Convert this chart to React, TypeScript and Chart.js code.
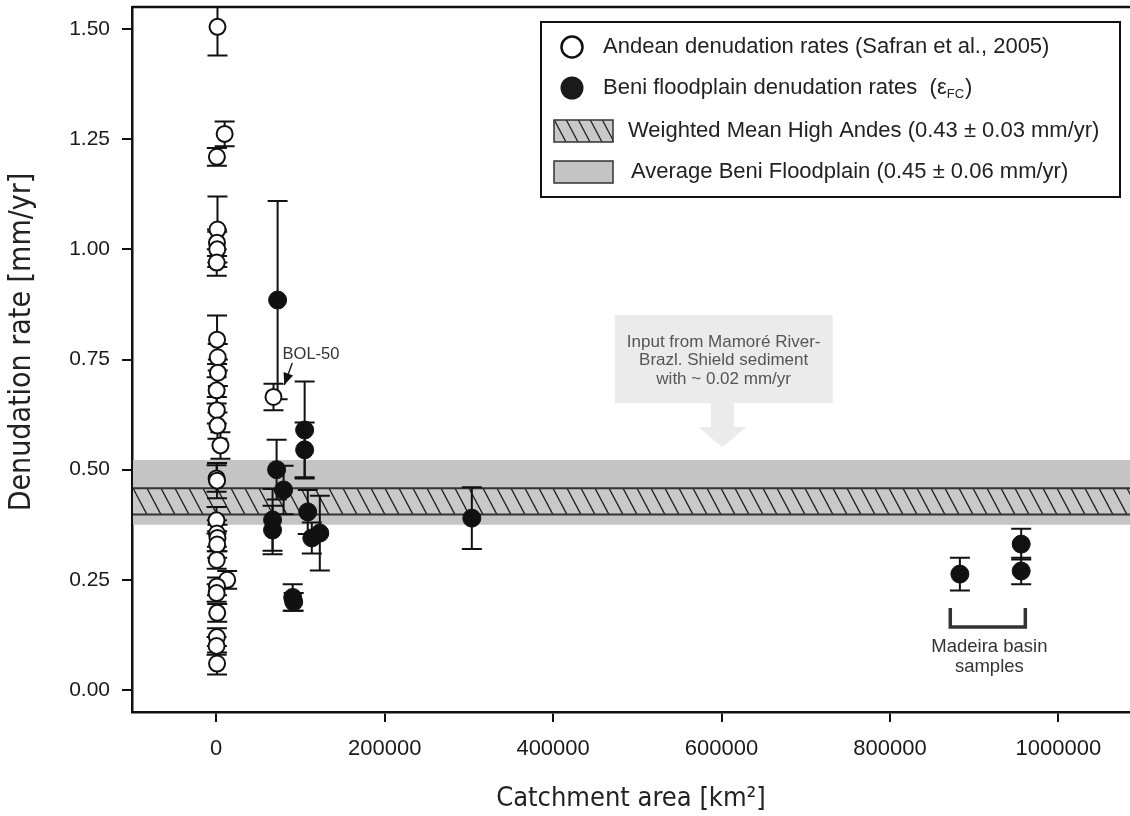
import React, { useEffect, useRef } from "react";
import { Chart, registerables } from "chart.js";

Chart.register(...registerables);

// ---------- data ----------
const X_TICKS = [0, 200000, 400000, 600000, 800000, 1000000];
const Y_TICKS = [0, 0.25, 0.5, 0.75, 1.0, 1.25, 1.5];

// Andean denudation rates (Safran et al., 2005) — catchment area km², rate mm/yr, error
const ANDEAN_X = [1500, 10000, 800, 1500, 900, 1200, 600, 1000, 1800, 2000, 500, 700, 1500, 5000, 400, 1000, 300, 800, 1500, 1100, 600, 13000, 900, 500, 1200, 800, 400, 1000, 68000];
const ANDEAN_Y = [1.505, 1.262, 1.21, 1.045, 1.015, 1.0, 0.97, 0.795, 0.755, 0.72, 0.68, 0.635, 0.6, 0.555, 0.48, 0.475, 0.385, 0.355, 0.345, 0.33, 0.295, 0.25, 0.235, 0.22, 0.175, 0.12, 0.1, 0.06, 0.665];
const ANDEAN_ERR = [0.065, 0.028, 0.02, 0.075, 0.03, 0.04, 0.03, 0.055, 0.03, 0.03, 0.03, 0.03, 0.03, 0.03, 0.03, 0.04, 0.03, 0.03, 0.03, 0.03, 0.02, 0.02, 0.02, 0.02, 0.02, 0.02, 0.02, 0.025, 0.03];

// Beni floodplain denudation rates
const BENI_X = [72900, 105000, 105000, 71700, 80000, 66900, 66900, 108700, 113500, 123000, 90800, 92000, 303500, 883000, 955800, 955800];
const BENI_Y = [0.885, 0.59, 0.545, 0.5, 0.454, 0.386, 0.363, 0.404, 0.345, 0.356, 0.21, 0.2, 0.39, 0.263, 0.331, 0.27];
const BENI_ERR = [0.225, 0.11, 0.062, 0.068, 0.055, 0.07, 0.055, 0.05, 0.035, 0.085, 0.03, 0.02, 0.07, 0.037, 0.035, 0.03];

// Bands
const AVG_BENI_BAND = [0.375, 0.522];
const WEIGHTED_ANDES_BAND = [0.398, 0.458];

// Annotations (data coordinates)
const NOTE_BOX = { x0: 473000, x1: 732000, y0: 0.651, y1: 0.851 };
const NOTE_LINES = ["Input from Mamoré River-", "Brazl. Shield sediment", "with ~ 0.02 mm/yr"];
const NOTE_LINE_Y = [0.79, 0.748, 0.705];
const NOTE_ARROW = { x: 601000, yTop: 0.651, yNeck: 0.597, yTip: 0.551 };
const BOL_LABEL = { text: "BOL-50", x: 78800, y: 0.762 };
const BOL_ARROW = { x0: 90300, y0: 0.742, x1: 80800, y1: 0.692 };
const MADEIRA_BRACKET = { x0: 871600, x1: 960700, yTop: 0.186, yBottom: 0.143 };
const MADEIRA_LINES = ["Madeira basin", "samples"];
const MADEIRA_LINE_Y = [0.098, 0.052];
const MADEIRA_TEXT_X = 918000;

const Y_TITLE = "Denudation rate [mm/yr]";
const X_TITLE = "Catchment area [km\u00b2]";

const SANS = "'Liberation Sans', Arial, sans-serif";
const NARROW = "'Liberation Sans Narrow', 'Arial Narrow', 'DejaVu Sans Condensed', sans-serif";

function hatchRect(ctx: CanvasRenderingContext2D, l: number, t: number, w: number, h: number, step: number) {
  ctx.save();
  ctx.beginPath();
  ctx.rect(l, t, w, h);
  ctx.clip();
  ctx.strokeStyle = "#222";
  ctx.lineWidth = 1.3;
  ctx.beginPath();
  const dx = 0.53 * h;
  for (let xs = l - dx - step; xs < l + w + step; xs += step) {
    ctx.moveTo(xs, t);
    ctx.lineTo(xs + dx, t + h);
  }
  ctx.stroke();
  ctx.restore();
}

const bandsPlugin = {
  id: "bands",
  beforeDatasetsDraw(chart: any) {
    const { ctx, chartArea, scales } = chart;
    const y = scales.y;
    const l = chartArea.left + 1;
    const r = chartArea.right;
    ctx.save();
    const gTop = y.getPixelForValue(AVG_BENI_BAND[1]);
    const gBot = y.getPixelForValue(AVG_BENI_BAND[0]);
    ctx.fillStyle = "#c4c4c4";
    ctx.fillRect(l, gTop, r - l, gBot - gTop);
    const hTop = y.getPixelForValue(WEIGHTED_ANDES_BAND[1]);
    const hBot = y.getPixelForValue(WEIGHTED_ANDES_BAND[0]);
    ctx.fillStyle = "#c9c9c9";
    ctx.fillRect(l, hTop, r - l, hBot - hTop);
    hatchRect(ctx, l, hTop, r - l, hBot - hTop, 14);
    ctx.strokeStyle = "#333";
    ctx.lineWidth = 2;
    ctx.beginPath();
    ctx.moveTo(l, hTop);
    ctx.lineTo(r, hTop);
    ctx.moveTo(l, hBot);
    ctx.lineTo(r, hBot);
    ctx.stroke();
    ctx.restore();
  },
};

const errorBarsPlugin = {
  id: "errorBars",
  beforeDatasetsDraw(chart: any) {
    const { ctx, chartArea, scales } = chart;
    const { x, y } = scales;
    ctx.save();
    ctx.beginPath();
    ctx.rect(chartArea.left, chartArea.top, chartArea.width, chartArea.height);
    ctx.clip();
    ctx.strokeStyle = "#111";
    ctx.lineWidth = 2;
    chart.data.datasets.forEach((ds: any) => {
      ds.data.forEach((p: any) => {
        const px = x.getPixelForValue(p.x);
        const pTop = y.getPixelForValue(p.y + p.e);
        const pBot = y.getPixelForValue(p.y - p.e);
        ctx.beginPath();
        ctx.moveTo(px, pTop);
        ctx.lineTo(px, pBot);
        ctx.moveTo(px - 10, pTop);
        ctx.lineTo(px + 10, pTop);
        ctx.moveTo(px - 10, pBot);
        ctx.lineTo(px + 10, pBot);
        ctx.stroke();
      });
    });
    ctx.restore();
  },
};

const overlayPlugin = {
  id: "overlay",
  afterDraw(chart: any) {
    const { ctx, chartArea, scales } = chart;
    const { x, y } = scales;
    ctx.save();
    // top border
    ctx.strokeStyle = "#111";
    ctx.lineWidth = 2.5;
    ctx.beginPath();
    ctx.moveTo(chartArea.left, chartArea.top);
    ctx.lineTo(chartArea.right, chartArea.top);
    ctx.stroke();

    // y axis title
    ctx.save();
    ctx.translate(22, 342);
    ctx.rotate(-Math.PI / 2);
    ctx.font = `30px ${NARROW}`;
    ctx.fillStyle = "#222";
    ctx.textAlign = "center";
    ctx.textBaseline = "middle";
    ctx.fillText(Y_TITLE, 0, 0);
    ctx.restore();

    // note box
    const bx0 = x.getPixelForValue(NOTE_BOX.x0);
    const bx1 = x.getPixelForValue(NOTE_BOX.x1);
    const by0 = y.getPixelForValue(NOTE_BOX.y1);
    const by1 = y.getPixelForValue(NOTE_BOX.y0);
    ctx.fillStyle = "#ebebeb";
    ctx.fillRect(bx0, by0, bx1 - bx0, by1 - by0);
    const ax = x.getPixelForValue(NOTE_ARROW.x);
    const aTop = y.getPixelForValue(NOTE_ARROW.yTop);
    const aNeck = y.getPixelForValue(NOTE_ARROW.yNeck);
    const aTip = y.getPixelForValue(NOTE_ARROW.yTip);
    ctx.beginPath();
    ctx.moveTo(ax - 11.5, aTop);
    ctx.lineTo(ax + 11.5, aTop);
    ctx.lineTo(ax + 11.5, aNeck);
    ctx.lineTo(ax + 24, aNeck);
    ctx.lineTo(ax, aTip);
    ctx.lineTo(ax - 24, aNeck);
    ctx.lineTo(ax - 11.5, aNeck);
    ctx.closePath();
    ctx.fill();
    ctx.fillStyle = "#555";
    ctx.font = `17px ${SANS}`;
    ctx.textAlign = "center";
    ctx.textBaseline = "middle";
    const cx = (bx0 + bx1) / 2;
    NOTE_LINES.forEach((t, i) => ctx.fillText(t, cx, y.getPixelForValue(NOTE_LINE_Y[i])));

    // BOL-50 label + arrow
    ctx.fillStyle = "#333";
    ctx.font = `16.5px ${SANS}`;
    ctx.textAlign = "left";
    ctx.fillText(BOL_LABEL.text, x.getPixelForValue(BOL_LABEL.x), y.getPixelForValue(BOL_LABEL.y));
    const p0x = x.getPixelForValue(BOL_ARROW.x0), p0y = y.getPixelForValue(BOL_ARROW.y0);
    const p1x = x.getPixelForValue(BOL_ARROW.x1), p1y = y.getPixelForValue(BOL_ARROW.y1);
    ctx.strokeStyle = "#222";
    ctx.lineWidth = 1.5;
    ctx.beginPath();
    ctx.moveTo(p0x, p0y);
    ctx.lineTo(p1x, p1y);
    ctx.stroke();
    const ang = Math.atan2(p1y - p0y, p1x - p0x);
    ctx.fillStyle = "#111";
    ctx.beginPath();
    ctx.moveTo(p1x, p1y);
    ctx.lineTo(p1x - 13 * Math.cos(ang - 0.4), p1y - 13 * Math.sin(ang - 0.4));
    ctx.lineTo(p1x - 13 * Math.cos(ang + 0.4), p1y - 13 * Math.sin(ang + 0.4));
    ctx.closePath();
    ctx.fill();

    // Madeira bracket
    const mx0 = x.getPixelForValue(MADEIRA_BRACKET.x0);
    const mx1 = x.getPixelForValue(MADEIRA_BRACKET.x1);
    const myT = y.getPixelForValue(MADEIRA_BRACKET.yTop);
    const myB = y.getPixelForValue(MADEIRA_BRACKET.yBottom);
    ctx.strokeStyle = "#333";
    ctx.lineWidth = 3.5;
    ctx.beginPath();
    ctx.moveTo(mx0, myT);
    ctx.lineTo(mx0, myB);
    ctx.lineTo(mx1, myB);
    ctx.lineTo(mx1, myT);
    ctx.stroke();
    ctx.fillStyle = "#333";
    ctx.font = `18.5px ${SANS}`;
    ctx.textAlign = "center";
    MADEIRA_LINES.forEach((t, i) => ctx.fillText(t, x.getPixelForValue(MADEIRA_TEXT_X), y.getPixelForValue(MADEIRA_LINE_Y[i])));

    // legend
    const L = 541, T = 22, W = 579, H = 175;
    ctx.fillStyle = "#fff";
    ctx.fillRect(L, T, W, H);
    ctx.strokeStyle = "#111";
    ctx.lineWidth = 2;
    ctx.strokeRect(L, T, W, H);
    ctx.font = `22px ${SANS}`;
    ctx.textAlign = "left";
    ctx.textBaseline = "middle";
    // row 1
    ctx.beginPath();
    ctx.arc(572, 47, 10.5, 0, Math.PI * 2);
    ctx.fillStyle = "#fff";
    ctx.fill();
    ctx.lineWidth = 2.5;
    ctx.strokeStyle = "#111";
    ctx.stroke();
    ctx.fillStyle = "#222";
    ctx.fillText("Andean denudation rates (Safran et al., 2005)", 603, 47);
    // row 2
    ctx.beginPath();
    ctx.arc(572, 88, 11.5, 0, Math.PI * 2);
    ctx.fillStyle = "#1a1a1a";
    ctx.fill();
    ctx.fillStyle = "#222";
    const t2 = "Beni floodplain denudation rates  (\u03b5";
    ctx.fillText(t2, 603, 88);
    const w2 = ctx.measureText(t2).width;
    ctx.font = `13px ${SANS}`;
    ctx.fillText("FC", 603 + w2, 94);
    const wsub = ctx.measureText("FC").width;
    ctx.font = `22px ${SANS}`;
    ctx.fillText(")", 603 + w2 + wsub + 1, 88);
    // row 3
    ctx.fillStyle = "#c9c9c9";
    ctx.fillRect(554, 120, 59, 22);
    hatchRect(ctx, 554, 120, 59, 22, 12);
    ctx.strokeStyle = "#333";
    ctx.lineWidth = 1.5;
    ctx.strokeRect(554, 120, 59, 22);
    ctx.fillStyle = "#222";
    ctx.fillText("Weighted Mean High Andes (0.43 \u00b1 0.03 mm/yr)", 628, 131);
    // row 4
    ctx.fillStyle = "#c4c4c4";
    ctx.fillRect(554, 161, 59, 22);
    ctx.strokeStyle = "#333";
    ctx.strokeRect(554, 161, 59, 22);
    ctx.fillStyle = "#222";
    ctx.fillText("Average Beni Floodplain (0.45 \u00b1 0.06 mm/yr)", 631, 172);
    ctx.restore();
  },
};

export default function App() {
  const ref = useRef<HTMLCanvasElement>(null);
  useEffect(() => {
    const canvas = ref.current!;
    const andean = ANDEAN_X.map((v, i) => ({ x: v, y: ANDEAN_Y[i], e: ANDEAN_ERR[i] }));
    const beni = BENI_X.map((v, i) => ({ x: v, y: BENI_Y[i], e: BENI_ERR[i] }));
    const chart = new Chart(canvas, {
      type: "scatter",
      data: {
        datasets: [
          {
            label: "Andean denudation rates (Safran et al., 2005)",
            data: andean,
            pointRadius: 8,
            pointBorderWidth: 2,
            pointBackgroundColor: "#fff",
            pointBorderColor: "#111",
          },
          {
            label: "Beni floodplain denudation rates",
            data: beni,
            pointRadius: 9,
            pointBorderWidth: 1,
            pointBackgroundColor: "#111",
            pointBorderColor: "#111",
          },
        ],
      },
      options: {
        responsive: false,
        animation: false,
        devicePixelRatio: 1,
        layout: { autoPadding: false, padding: { top: 7, left: 0, right: 0, bottom: 0 } },
        plugins: { legend: { display: false }, tooltip: { enabled: false } },
        scales: {
          x: {
            type: "linear",
            min: -100000,
            max: 1085000,
            afterFit: (s: any) => {
              s.height = 104;
              s.paddingLeft = 0;
              s.paddingRight = 0;
            },
            afterBuildTicks: (s: any) => { s.ticks = X_TICKS.map((v) => ({ value: v })); },
            ticks: {
              callback: (v: any) => String(v),
              font: { family: SANS, size: 22 },
              color: "#1a1a1a",
              padding: 14,
              maxRotation: 0,
            },
            grid: { drawOnChartArea: false, drawTicks: true, tickLength: 10, color: "#111", lineWidth: 2 },
            border: { display: true, color: "#111", width: 2.5 },
            title: {
              display: true,
              text: X_TITLE,
              font: { family: NARROW, size: 27 },
              color: "#222",
              padding: { top: 0, bottom: 1 },
            },
          },
          y: {
            type: "linear",
            min: -0.05,
            max: 1.55,
            afterFit: (s: any) => {
              s.width = 132;
              s.paddingTop = 0;
              s.paddingBottom = 0;
            },
            afterBuildTicks: (s: any) => { s.ticks = Y_TICKS.map((v) => ({ value: v })); },
            ticks: {
              callback: (v: any) => Number(v).toFixed(2),
              font: { family: SANS, size: 21 },
              color: "#1a1a1a",
              padding: 12,
            },
            grid: { drawOnChartArea: false, drawTicks: true, tickLength: 10, color: "#111", lineWidth: 2 },
            border: { display: true, color: "#111", width: 2.5 },
            title: { display: false, text: Y_TITLE },
          },
        },
      },
      plugins: [bandsPlugin, errorBarsPlugin, overlayPlugin],
    } as any);
    return () => chart.destroy();
  }, []);
  return (
    <div style={{ position: "fixed", left: 0, top: 0, width: 1130, height: 816, background: "#fff" }}>
      <canvas ref={ref} width={1130} height={816} style={{ width: 1130, height: 816, display: "block" }} />
    </div>
  );
}
